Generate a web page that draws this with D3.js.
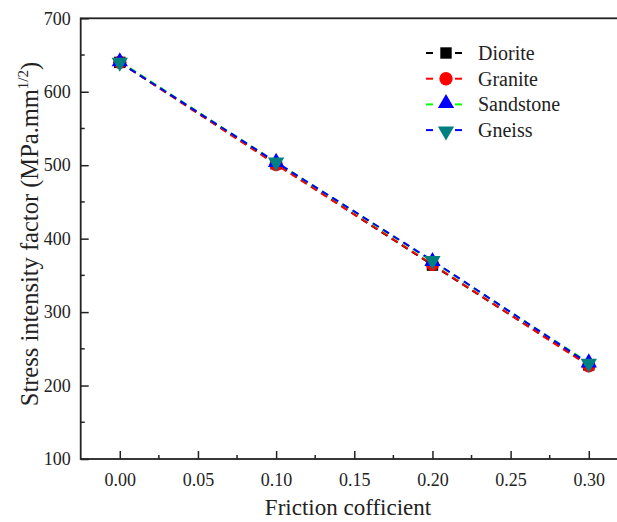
<!DOCTYPE html>
<html>
<head>
<meta charset="utf-8">
<script src="https://cdn.jsdelivr.net/npm/d3@7"></script>
<style>
html,body{margin:0;padding:0;background:#fff;}
svg{display:block;font-family:"Liberation Serif","Times New Roman",serif;}
svg text{font-family:"Liberation Serif","Times New Roman",serif !important;}
</style>
</head>
<body>
<svg id="chart" width="617" height="522"></svg>
<script>
const friction = [0.00, 0.10, 0.20, 0.30];
const seriesNames = ["Diorite", "Granite", "Sandstone", "Gneiss"];
const diorite = [640, 502, 364, 228];
const granite = [640, 501, 365, 227];
const sandstone = [641, 504, 369, 231];
const gneiss = [640, 504, 370, 230];
const xTicks = [0.00, 0.05, 0.10, 0.15, 0.20, 0.25, 0.30];
const yTicks = [100, 200, 300, 400, 500, 600, 700];

const styles = {
  Diorite: {line: "#000000", fill: "#000000", shape: d3.symbolSquare, size: 130, rot: 0},
  Granite: {line: "#ff0000", fill: "#ff0000", shape: d3.symbolCircle, size: 140, rot: 0},
  Sandstone: {line: "#00ff00", fill: "#0000ff", shape: d3.symbolTriangle, size: 115, rot: 0},
  Gneiss: {line: "#0000ff", fill: "#008080", shape: d3.symbolTriangle, size: 115, rot: 180}
};
const valuesBy = {Diorite: diorite, Granite: granite, Sandstone: sandstone, Gneiss: gneiss};

const svg = d3.select("#chart");
const L = 80.7, T = 18.3, B = 459;
const x = d3.scaleLinear().domain([-0.025, 0.325]).range([L, L + 0.35 / 0.3 * (588.3 - 119.3)]);
const y = d3.scaleLinear().domain([100, 700]).range([B, T]);
const axisColor = "#222";
const serif = '"Liberation Serif","Times New Roman",serif';

// frame
svg.append("rect").attr("x", L).attr("y", T).attr("width", x(0.325) - L).attr("height", B - T)
  .attr("fill", "none").attr("stroke", axisColor).attr("stroke-width", 1.8);

// x axis ticks (inward)
const xMinor = d3.range(0.025, 0.3, 0.05);
const gx = svg.append("g").attr("transform", `translate(0,${B})`);
gx.call(d3.axisBottom(x).tickValues(xTicks).tickSize(-8).tickPadding(14).tickFormat(d3.format(".2f")));
gx.attr("font-family", null);
gx.select(".domain").remove();
gx.selectAll(".tick line").attr("stroke", axisColor).attr("stroke-width", 1.5);
gx.selectAll(".tick text").style("font-size", "18px").style("font-family", serif).attr("fill", "#222");
gx.selectAll(".minor").data(xMinor).enter().append("line").attr("class", "minor")
  .attr("x1", d => x(d)).attr("x2", d => x(d)).attr("y1", 0).attr("y2", -4)
  .attr("stroke", axisColor).attr("stroke-width", 1.5);

// y axis ticks (inward)
const yMinor = d3.range(150, 700, 100);
const gy = svg.append("g").attr("transform", `translate(${L},0)`);
gy.call(d3.axisLeft(y).tickValues(yTicks).tickSize(-8).tickPadding(10).tickFormat(d3.format("d")));
gy.attr("font-family", null);
gy.select(".domain").remove();
gy.selectAll(".tick line").attr("stroke", axisColor).attr("stroke-width", 1.5);
gy.selectAll(".tick text").style("font-size", "18px").style("font-family", serif).attr("fill", "#222");
gy.selectAll(".minor").data(yMinor).enter().append("line").attr("class", "minor")
  .attr("x1", 0).attr("x2", 4).attr("y1", d => y(d)).attr("y2", d => y(d))
  .attr("stroke", axisColor).attr("stroke-width", 1.5);

// axis titles
svg.append("text").attr("x", 348).attr("y", 515).attr("text-anchor", "middle")
  .style("font-size", "23px").attr("fill", "#222").text("Friction cofficient");
const yt = svg.append("text").attr("transform", "translate(38,234) rotate(-90)")
  .attr("text-anchor", "middle").style("font-size", "24.5px").attr("fill", "#222");
yt.append("tspan").text("Stress intensity factor (MPa.mm");
yt.append("tspan").attr("dy", -10).style("font-size", "15px").text("1/2");
yt.append("tspan").attr("dy", 10).text(")");

// series lines
const line = d3.line().x((d, i) => x(friction[i])).y(d => y(d));
seriesNames.forEach(name => {
  svg.append("path").datum(valuesBy[name]).attr("d", line)
    .attr("fill", "none").attr("stroke", styles[name].line).attr("stroke-width", 2)
    .attr("stroke-dasharray", "7,5");
});
// markers
seriesNames.forEach(name => {
  const s = styles[name];
  svg.append("g").selectAll("path").data(valuesBy[name]).enter().append("path")
    .attr("d", d3.symbol().type(s.shape).size(s.size))
    .attr("transform", (d, i) => `translate(${x(friction[i])},${y(d)}) rotate(${s.rot})`)
    .attr("fill", s.fill);
});

// legend
const lg = svg.append("g");
seriesNames.forEach((name, i) => {
  const s = styles[name];
  const cy = 53 + i * 25.7;
  lg.append("line").attr("x1", 426).attr("x2", 433).attr("y1", cy).attr("y2", cy)
    .attr("stroke", s.line).attr("stroke-width", 2);
  lg.append("line").attr("x1", 455).attr("x2", 462).attr("y1", cy).attr("y2", cy)
    .attr("stroke", s.line).attr("stroke-width", 2);
  lg.append("path").attr("d", d3.symbol().type(s.shape).size(s.size))
    .attr("transform", `translate(446,${cy + (s.rot ? 1 : (s.shape === d3.symbolTriangle ? -1 : 0))}) rotate(${s.rot})`)
    .attr("fill", s.fill);
  lg.append("text").attr("x", 478).attr("y", cy + 7).style("font-size", "20px").attr("fill", "#222").text(name);
});
</script>
</body>
</html>
